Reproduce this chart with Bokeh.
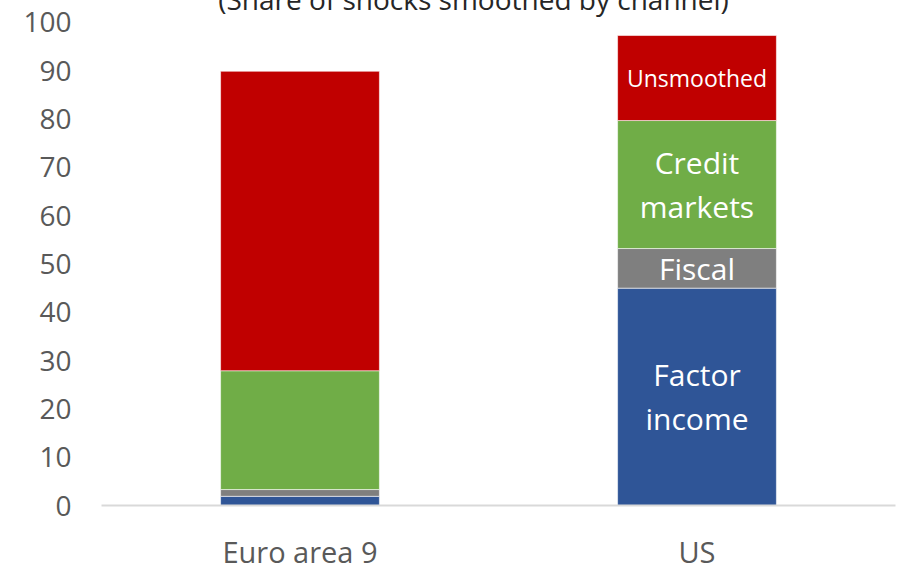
from bokeh.plotting import figure
from bokeh.models import ColumnDataSource, Label, FixedTicker, FactorRange, Range1d
from bokeh.core.properties import value
from bokeh.embed import file_html
from bokeh.resources import INLINE
import numpy as np

# ---- data ----
countries = ["Euro area 9", "US"]
channels = ["Factor income", "Fiscal", "Credit markets", "Unsmoothed"]
factor_income = [1.9, 45.0]
fiscal = [1.4, 8.2]
credit_markets = [24.6, 26.5]
unsmoothed = [62.0, 17.6]
colors = ["#2F5597", "#7F7F7F", "#70AD47", "#C00000"]
segment_labels = ["Factor\nincome", "Fiscal", "Credit\nmarkets", "Unsmoothed"]
segment_label_sizes = ["30px", "30px", "30px", "23px"]
y_ticks = [0, 10, 20, 30, 40, 50, 60, 70, 80, 90, 100]
title_text = "(Share of shocks smoothed by channel)"

FONT = "Open Sans"

src = ColumnDataSource(dict(country=countries,
                            **{"Factor income": factor_income,
                               "Fiscal": fiscal,
                               "Credit markets": credit_markets,
                               "Unsmoothed": unsmoothed}))

p = figure(x_range=FactorRange(*countries), y_range=Range1d(0, 106),
           frame_width=794, frame_height=512,
           min_border_left=101, min_border_right=4, min_border_top=16, min_border_bottom=50,
           output_backend="svg", toolbar_location=None)
p.styles = {"margin-top": "-23px"}

p.vbar_stack(channels, x="country", width=0.4, color=colors, source=src,
             line_color="white", line_width=0.8, line_alpha=0.7)

# labels on US bar, centred in each segment
us_vals = np.array([factor_income[1], fiscal[1], credit_markets[1], unsmoothed[1]])
tops = np.cumsum(us_vals)
mids = tops - us_vals / 2
lab_src = ColumnDataSource(dict(x=["US"] * 4, y=list(mids), text=segment_labels,
                                size=segment_label_sizes))
p.text(x="x", y="y", text="text", source=lab_src, text_color="white",
       text_font=value(FONT), text_font_size="size", text_align="center",
       text_baseline="middle", text_line_height=1.08)

# title (partially cut off at top, as in reference)
p.add_layout(Label(x=0.937, y=104.9, text=title_text, text_font=FONT,
                   text_font_size="28px", text_color="#262626",
                   text_align="center", text_baseline="alphabetic"))

p.xgrid.grid_line_color = None
p.ygrid.grid_line_color = None
p.outline_line_color = None
p.background_fill_color = "white"

p.yaxis.ticker = FixedTicker(ticks=y_ticks)
p.yaxis.axis_line_color = None
p.yaxis.major_tick_line_color = None
p.yaxis.minor_tick_line_color = None
p.yaxis.major_label_standoff = 24
p.yaxis.major_label_text_font = FONT
p.yaxis.major_label_text_font_size = "28px"
p.yaxis.major_label_text_color = "#595959"

p.xaxis.axis_line_color = "#D9D9D9"
p.xaxis.axis_line_width = 2
p.xaxis.major_tick_line_color = None
p.xaxis.minor_tick_line_color = None
p.xaxis.major_label_standoff = 20
p.xaxis.major_label_text_font = FONT
p.xaxis.major_label_text_font_size = "29px"
p.xaxis.major_label_text_color = "#595959"

open("out.html", "w").write(file_html(p, INLINE))
